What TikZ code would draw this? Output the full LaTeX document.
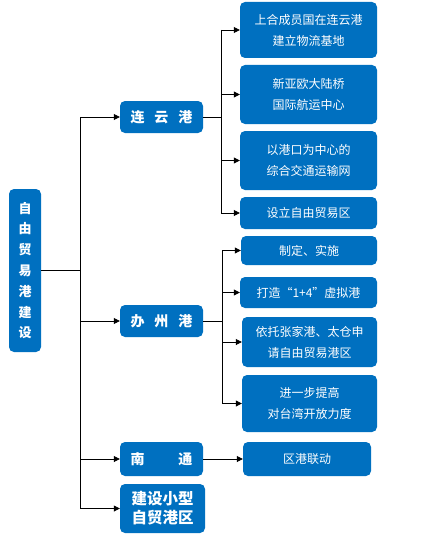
\documentclass[tikz,border=0pt]{standalone}
\usepackage{fontspec}
\setmainfont{Noto Sans CJK SC}
\usetikzlibrary{arrows.meta}
\definecolor{boxblue}{HTML}{0070C0}
\tikzset{
  box/.style={fill=boxblue, rounded corners=5pt, text=white, align=center, inner sep=0pt},
  leaf/.style={box, font=\fontsize{12pt}{21pt}\selectfont},
  mid/.style={box, font=\fontsize{14pt}{19pt}\selectfont\bfseries},
  link/.style={line width=0.8pt, black},
  arr/.style={link, -{Triangle[length=6pt,width=6pt]}}
}
\begin{document}
\begin{tikzpicture}[x=1pt,y=-1pt]
\useasboundingbox (0,0) rectangle (427,535);
% root
\node[box, minimum width=32pt, minimum height=163pt, font=\fontsize{13pt}{20.8pt}\selectfont\bfseries] (root) at (25,270.5) {自\\由\\贸\\易\\港\\建\\设};
% level 1
\node[mid, minimum width=83pt, minimum height=32pt] (lyg) at (161.5,117) {连\hspace{10pt}云\hspace{10pt}港};
\node[mid, minimum width=83pt, minimum height=32pt] (bzg) at (161.5,321) {办\hspace{10pt}州\hspace{10pt}港};
\node[mid, minimum width=83pt, minimum height=34pt] (nt) at (161.5,459) {南\hspace{34pt}通};
\node[mid, minimum width=85pt, minimum height=49pt, font=\fontsize{15.5pt}{19pt}\selectfont\bfseries] (jsx) at (162.5,508.5) {建设小型\\自贸港区};
% leaves
\node[leaf, minimum width=137pt, minimum height=56pt] (r1) at (308.5,30) {上合成员国在连云港\\建立物流基地};
\node[leaf, minimum width=137pt, minimum height=59pt] (r2) at (308.5,94.5) {新亚欧大陆桥\\国际航运中心};
\node[leaf, minimum width=137pt, minimum height=59pt] (r3) at (308.5,160.5) {以港口为中心的\\综合交通运输网};
\node[leaf, minimum width=137pt, minimum height=32pt] (r4) at (308.5,213) {设立自由贸易区};
\node[leaf, minimum width=136pt, minimum height=29pt] (r5) at (309,250.5) {制定、实施};
\node[leaf, minimum width=137pt, minimum height=31pt] (r6) at (308.5,292.5) {打造“1+4”虚拟港};
\node[leaf, minimum width=135pt, minimum height=50pt] (r7) at (309.5,342) {依托张家港、太仓申\\请自由贸易港区};
\node[leaf, minimum width=135pt, minimum height=57pt] (r8) at (309.5,403.5) {进一步提高\\对台湾开放力度};
\node[leaf, minimum width=128pt, minimum height=34pt] (r9) at (307,459) {区港联动};
% trunk
\coordinate (j0) at (80,270.5);
\draw[link] (root.east) -- (j0);
\draw[link] (j0 |- lyg) -- (j0 |- jsx);
\draw[arr] (j0 |- lyg) -- (lyg.west);
\draw[arr] (j0 |- bzg) -- (bzg.west);
\draw[arr] (j0 |- nt) -- (nt.west);
\draw[arr] (j0 |- jsx) -- (jsx.west);
% lianyungang branch
\coordinate (j1) at (221,117);
\draw[link] (lyg.east) -- (j1);
\draw[link] (j1 |- r1) -- (j1 |- r4);
\draw[arr] (j1 |- r1) -- (r1.west);
\draw[arr] (j1 |- r2) -- (r2.west);
\draw[arr] (j1 |- r3) -- (r3.west);
\draw[arr] (j1 |- r4) -- (r4.west);
% second branch
\coordinate (j2) at (222,321);
\draw[link] (bzg.east) -- (j2);
\draw[link] (j2 |- r5) -- (j2 |- r8);
\draw[arr] (j2 |- r5) -- (r5.west);
\draw[arr] (j2 |- r6) -- (r6.west);
\draw[arr] (j2 |- r7) -- (r7.west);
\draw[arr] (j2 |- r8) -- (r8.west);
% nantong
\draw[arr] (nt.east) -- (r9.west);
\end{tikzpicture}
\end{document}
